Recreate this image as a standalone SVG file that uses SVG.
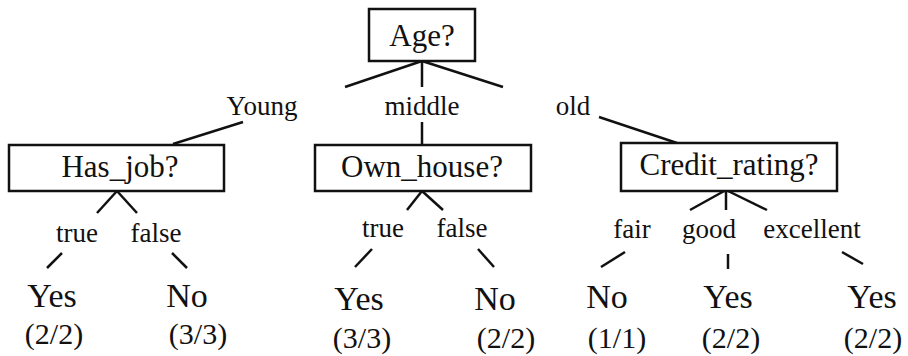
<svg xmlns="http://www.w3.org/2000/svg" width="908" height="356" viewBox="0 0 908 356">
<style>
text{font-family:"Liberation Serif","Times New Roman",serif;fill:#111;text-anchor:middle}
.box{fill:#fff;stroke:#111;stroke-width:2.5}
.q{font-size:31px}
.lab{font-size:27px}
.cls{font-size:34px}
.frac{font-size:30px}
#connectors line{stroke:#111;stroke-width:2.5}
</style>
<rect width="908" height="356" fill="#fff"/>
<g id="connectors">
<line x1="422" y1="61" x2="345" y2="87"/>
<line x1="422" y1="61" x2="422" y2="87"/>
<line x1="422" y1="61" x2="503" y2="87"/>
<line x1="243" y1="122" x2="173" y2="144"/>
<line x1="422" y1="122" x2="422" y2="146"/>
<line x1="599" y1="117" x2="677" y2="143"/>
<line x1="117" y1="191" x2="97" y2="213"/>
<line x1="117" y1="191" x2="137" y2="213"/>
<line x1="62" y1="253" x2="47" y2="268"/>
<line x1="172" y1="253" x2="187" y2="268"/>
<line x1="422" y1="191" x2="407" y2="210"/>
<line x1="422" y1="191" x2="443" y2="210"/>
<line x1="372" y1="249" x2="355" y2="267"/>
<line x1="478" y1="249" x2="494" y2="267"/>
<line x1="726" y1="190" x2="690" y2="210"/>
<line x1="726" y1="190" x2="726" y2="210"/>
<line x1="726" y1="190" x2="767" y2="210"/>
<line x1="625" y1="252" x2="601" y2="267"/>
<line x1="728" y1="254" x2="728" y2="269"/>
<line x1="842" y1="252" x2="863" y2="264"/>
</g>
<g id="age"><rect class="box" x="369" y="9" width="106" height="52"/><text class="q" x="422" y="46">Age?</text></g>
<g id="edge-labels">
<text class="lab" x="262" y="115">Young</text>
<text class="lab" x="422" y="115">middle</text>
<text class="lab" x="573" y="115">old</text>
</g>
<g id="has_job"><rect class="box" x="9" y="145" width="215" height="46"/><text class="q" x="120" y="177">Has_job?</text></g>
<g id="own_house"><rect class="box" x="315" y="145" width="216" height="46"/><text class="q" x="422" y="177">Own_house?</text></g>
<g id="credit_rating"><rect class="box" x="621" y="143" width="216" height="48"/><text class="q" x="729" y="175">Credit_rating?</text></g>
<g id="labels2">
<text class="lab" x="77" y="242">true</text>
<text class="lab" x="156" y="242">false</text>
<text class="lab" x="383" y="237">true</text>
<text class="lab" x="462" y="237">false</text>
<text class="lab" x="632" y="238">fair</text>
<text class="lab" x="709" y="238">good</text>
<text class="lab" x="812" y="238">excellent</text>
</g>
<g id="leaf1"><text class="cls" x="52" y="307">Yes</text><text class="frac" x="54" y="344">(2/2)</text></g>
<g id="leaf2"><text class="cls" x="187" y="307">No</text><text class="frac" x="198" y="344">(3/3)</text></g>
<g id="leaf3"><text class="cls" x="359" y="310">Yes</text><text class="frac" x="362" y="348">(3/3)</text></g>
<g id="leaf4"><text class="cls" x="495" y="310">No</text><text class="frac" x="506" y="348">(2/2)</text></g>
<g id="leaf5"><text class="cls" x="607" y="308">No</text><text class="frac" x="617" y="348">(1/1)</text></g>
<g id="leaf6"><text class="cls" x="728" y="308">Yes</text><text class="frac" x="731" y="348">(2/2)</text></g>
<g id="leaf7"><text class="cls" x="872" y="308">Yes</text><text class="frac" x="873" y="348">(2/2)</text></g>
</svg>
